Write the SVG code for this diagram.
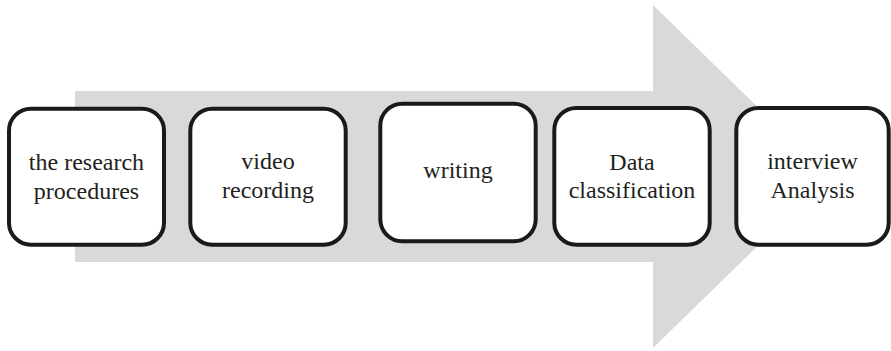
<svg xmlns="http://www.w3.org/2000/svg" width="891" height="351" viewBox="0 0 891 351">
<style>
.box{fill:#ffffff;stroke:#1a1a1a;stroke-width:4}
.lbl{font-family:'Liberation Serif','DejaVu Serif',serif;font-size:24px;fill:#231f20;text-anchor:middle}
</style>
<rect width="891" height="351" fill="#ffffff"/>
<g id="connectors">
<polygon points="75,91 653,91 653,5 829,176.5 653,348 653,262 75,262" fill="#d9d9d9"/>
</g>
<g id="node1">
<rect class="box" x="9" y="108.7" width="155" height="136" rx="22"/>
<text class="lbl" x="86.5" y="170">the research</text>
<text class="lbl" x="86.5" y="199">procedures</text>
</g>
<g id="node2">
<rect class="box" x="190.3" y="108.7" width="155.4" height="136" rx="22"/>
<text class="lbl" x="268" y="169">video</text>
<text class="lbl" x="268" y="197.5">recording</text>
</g>
<g id="node3">
<rect class="box" x="380.3" y="103.7" width="155.4" height="137.6" rx="22"/>
<text class="lbl" x="458" y="178.3">writing</text>
</g>
<g id="node4">
<rect class="box" x="554.3" y="108" width="155.4" height="136.7" rx="22"/>
<text class="lbl" x="632" y="170">Data</text>
<text class="lbl" x="632" y="198.3">classification</text>
</g>
<g id="node5">
<rect class="box" x="736.3" y="108" width="152.4" height="136.7" rx="22"/>
<text class="lbl" x="812.5" y="169.3">interview</text>
<text class="lbl" x="812.5" y="197.7">Analysis</text>
</g>
</svg>
